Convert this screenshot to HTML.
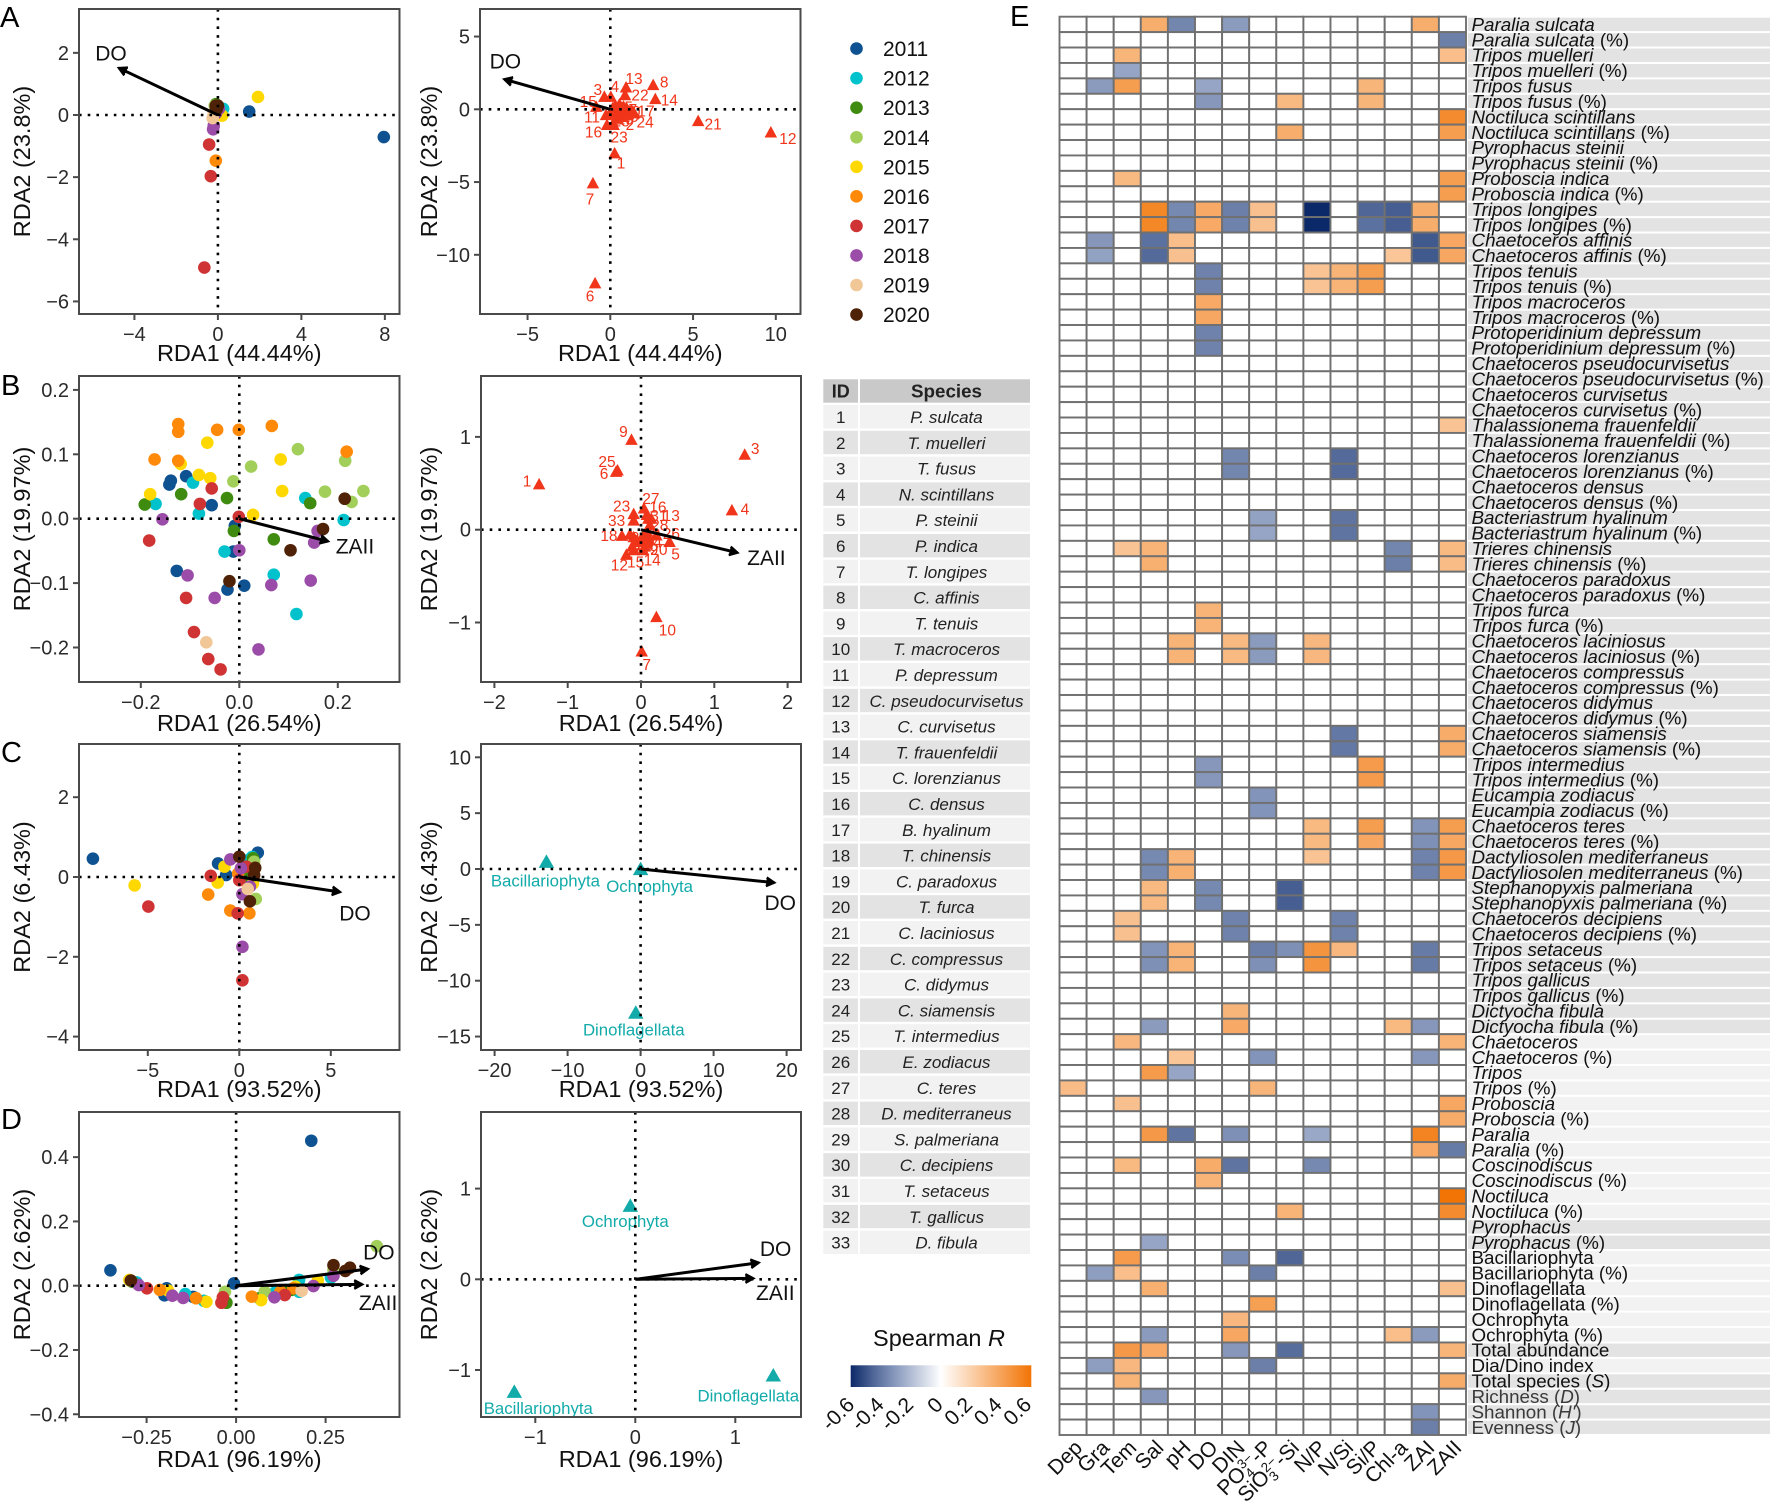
<!DOCTYPE html>
<html lang="en">
<head>
<meta charset="utf-8">
<title>RDA biplots and Spearman heatmap</title>
<style>
html,body{margin:0;padding:0;background:#fff;}
svg{display:block;font-family:"Liberation Sans",Arial,sans-serif;}
</style>
</head>
<body>
<svg id="fig" xmlns="http://www.w3.org/2000/svg" width="1771" height="1503" viewBox="0 0 1771 1503">
<defs>
<linearGradient id="spearmanGrad" x1="0" x2="1" y1="0" y2="0">
<stop offset="0" stop-color="#0B2868"/>
<stop offset="0.125" stop-color="#4F6697"/>
<stop offset="0.25" stop-color="#8A9BBE"/>
<stop offset="0.5" stop-color="#FFFFFF"/>
<stop offset="1" stop-color="#F27405"/>
</linearGradient>
</defs>
<rect x="0" y="0" width="1771" height="1503" fill="#fff"/>
</svg>
<script>
/* ---------- shared categories ---------- */
const years = [2011,2012,2013,2014,2015,2016,2017,2018,2019,2020];
const yearColors = ['#0F5291','#00C2CC','#3F8B0F','#A2CF5A','#FFD800','#FF8A0A','#CF3333','#9B4CA8','#F2C797','#4F2208'];

/* ---------- panel A ---------- */
const scoresA = [
 [[0.1,0.15],[7.95,-0.71],[1.5,0.11]],
 [[0.25,0.2],[0.2,0.1]],
 [[-0.1,0.35],[-0.05,0.2]],
 [[-0.15,0.3],[-0.1,0.1]],
 [[1.92,0.58],[0.2,-0.02],[0,0.15]],
 [[-0.1,-1.47],[-0.05,0.15]],
 [[-0.65,-4.91],[-0.34,-1.97],[-0.42,-0.95],[-0.1,0.05]],
 [[-0.23,-0.46],[-0.1,0.05],[0.05,0.2],[-0.2,-0.35]],
 [[-0.25,-0.1],[-0.2,0.05]],
 [[-0.1,0.3],[-0.05,0.2],[-0.1,0.25],[0,0.3]]
];
const loadingsA = [[1,0.26,-3.02],[2,0.46,-0.5],[3,-0.36,0.87],[4,0.03,0.87],[5,0.5,-0.2],[6,-0.92,-11.95],[7,-1.05,-5.08],[8,2.59,1.67],[9,0.3,0.25],[10,0.7,0.1],[11,-0.26,-0.39],[12,9.7,-1.58],[13,0.95,1.51],[14,2.72,0.71],[15,-0.85,0.18],[16,-0.2,-1.07],[17,1.28,-0.05],[18,0.35,-0.6],[19,0.6,-0.45],[20,0.9,-0.3],[21,5.31,-0.8],[22,0.89,0.98],[23,0.2,-1.07],[24,1.44,-0.27],[25,0.55,0.35],[26,0.15,0.1],[27,0.8,0.2],[28,0.4,-0.1],[29,0.25,-0.3],[30,1.0,0.05],[31,0.65,-0.1],[32,0.1,-0.2],[33,0.45,0.1]];
const nudgeA = {1:[6.5,10],2:[12,8],3:[-6.5,-7],4:[4,-10],6:[-5,13],7:[-3,16],8:[11,-3],11:[-14,2],12:[17,6],13:[8,-9],14:[14,1],15:[-8,-5],16:[-13.5,7],17:[14.5,1],21:[15,3],22:[15,0],23:[5.5,12],24:[11,9]};

/* ---------- panel B ---------- */
const scoresB = [
 [[-0.108,0.066],[-0.139,0.059],[-0.142,0.053],[-0.056,0.021],[-0.009,-0.011],[-0.012,-0.051],[-0.127,-0.081],[-0.024,-0.11],[0.01,-0.104]],
 [[-0.094,0.056],[-0.17,0.023],[-0.082,0.008],[0.134,0.032],[0.212,-0.002],[-0.03,-0.051],[0.07,-0.087],[0.116,-0.148]],
 [[-0.192,0.022],[-0.118,0.038],[-0.025,0.032],[0.144,0.024],[-0.011,-0.019],[0.07,-0.032]],
 [[0.119,0.108],[0.024,0.081],[0.215,0.09],[-0.012,0.058],[0.174,0.042],[0.252,0.043],[0.228,0.026]],
 [[-0.065,0.118],[-0.119,0.085],[-0.082,0.068],[-0.059,0.063],[-0.181,0.038],[0.084,0.092],[0.087,0.043],[0.028,0.006]],
 [[-0.124,0.147],[-0.124,0.135],[-0.045,0.138],[-0.001,0.138],[0.066,0.144],[0.218,0.104],[-0.172,0.092],[-0.124,0.09]],
 [[-0.056,0.047],[-0.08,0.023],[-0.001,0.003],[-0.183,-0.034],[-0.108,-0.123],[-0.092,-0.176],[-0.063,-0.218],[-0.038,-0.234]],
 [[-0.156,-0.001],[0.159,-0.019],[0.152,-0.037],[0,-0.049],[-0.105,-0.088],[0.065,-0.103],[0.145,-0.096],[-0.05,-0.123],[0.039,-0.203]],
 [[-0.067,-0.192]],
 [[0.214,0.031],[0.17,-0.016],[0.104,-0.049],[-0.02,-0.097]]
];
const loadingsB = [[1,-1.39,0.49],[2,0,-0.1],[3,1.415,0.81],[4,1.24,0.21],[5,0.39,-0.13],[6,-0.34,0.625],[7,0.01,-1.31],[8,-0.15,-0.05],[9,-0.13,0.97],[10,0.21,-0.94],[11,-0.05,-0.12],[12,-0.2,-0.27],[13,0.14,0.12],[14,0.03,-0.22],[15,-0.1,-0.22],[16,0.08,0.16],[17,0.05,-0.05],[18,-0.26,-0.065],[19,-0.12,-0.18],[20,0.08,-0.15],[21,0.02,-0.08],[22,-0.02,-0.13],[23,-0.1,0.17],[24,0.1,-0.1],[25,-0.32,0.64],[26,0.21,-0.06],[27,0.04,0.23],[28,0.12,0.05],[29,0.05,-0.18],[30,-0.1,-0.08],[31,0.1,0.12],[32,0.08,-0.02],[33,-0.1,0.1]];
const nudgeB = {1:[-12,-3],3:[10.5,-6],4:[13,-1],5:[6,12],6:[-12,2],7:[5,13],9:[-8,-8],10:[11,13],12:[-7,10],13:[20,-3],14:[9,10],15:[2,12],16:[11,-8],18:[-13,0],20:[12,6],23:[-12,-8],25:[-10.5,-9],26:[15,-2],27:[7,-10],28:[10,0],31:[10.5,-3],33:[-17,0]};

/* ---------- panel C ---------- */
const scoresC = [
 [[-8.0,0.46],[1.01,0.61],[-1.16,0.34],[-0.72,0.05],[0.81,0.47]],
 [[0.52,0.43],[0.7,0.5]],
 [[0.75,0.47],[0.5,0]],
 [[0.9,-0.55],[0.81,0.38]],
 [[-5.72,-0.21],[-1.18,-0.14],[-0.81,0.26],[0.75,-0.16]],
 [[-1.7,-0.44],[-0.49,-0.84],[0.55,-0.91],[-0.06,0.09]],
 [[-4.97,-0.74],[-1.56,0.03],[-0.09,-0.91],[0.17,-2.59],[0,-0.08],[0.38,0.26]],
 [[0.17,-1.75],[-0.49,0.44],[0.17,-0.43],[0.09,0.22],[0.58,-0.24]],
 [[0.46,-0.3]],
 [[0,0.51],[0.87,0.23],[0.81,0.05],[0.58,-0.61]]
];
const phylaC = [['Bacillariophyta',-12.9,0.65],['Ochrophyta',0,0],['Dinoflagellata',-0.66,-12.86]];

/* ---------- panel D ---------- */
const scoresD = [
 [[0.21,0.451],[-0.351,0.048],[-0.006,0.007],[-0.194,-0.008],[-0.2,-0.03],[-0.12,-0.035],[0.17,0]],
 [[-0.278,0.01],[-0.142,-0.026],[-0.09,-0.047],[0.176,0.018],[0.176,-0.019],[0.265,0.025],[0.11,-0.02]],
 [[-0.027,-0.053],[0.065,-0.039],[0.154,-0.013],[0.14,-0.02],[-0.29,0.012]],
 [[-0.031,-0.019],[0.08,-0.019],[0.272,0.049],[0.393,0.123],[-0.295,0.015]],
 [[-0.298,0.018],[-0.19,-0.015],[-0.083,-0.05],[0.07,-0.045],[0.166,-0.003],[0.228,0.016]],
 [[-0.213,-0.013],[-0.112,-0.039],[0.044,-0.034],[0.124,-0.019],[0.16,-0.008]],
 [[-0.249,-0.008],[-0.037,-0.036],[-0.041,-0.053],[0.136,-0.029]],
 [[-0.272,0.002],[-0.178,-0.031],[-0.148,-0.038],[0.107,-0.036],[0.216,-0.001],[0.272,0.031]],
 [[0.183,-0.016]],
 [[-0.294,0.016],[0.272,0.064],[0.305,0.046],[0.318,0.056]]
];
const phylaD = [['Ochrophyta',-0.05,0.81],['Bacillariophyta',-1.21,-1.24],['Dinoflagellata',1.38,-1.06]];

/* ---------- arrows (data coordinates) ---------- */
const arrowsA1 = [['DO',-4.74,1.51]];
const arrowsA2 = [['DO',-6.4,2.06]];
const arrowsB1 = [['ZAII',0.18,-0.035]];
const arrowsB2 = [['ZAII',1.315,-0.248]];
const arrowsC1 = [['DO',5.5,-0.376]];
const arrowsC2 = [['DO',18.3,-1.22]];
const arrowsD1 = [['DO',0.368,0.052],['ZAII',0.352,0.004]];
const arrowsD2 = [['DO',1.233,0.183],['ZAII',1.18,0.01]];

/* ---------- ticks ---------- */
const ticksA1x = [-4,0,4,8];
const ticksA1y = [2,0,-2,-4,-6];
const ticksA2x = [-5,0,5,10];
const ticksA2y = [5,0,-5,-10];
const ticksB1x = ['-0.2','0.0','0.2'];
const ticksB1y = ['0.2','0.1','0.0','-0.1','-0.2'];
const ticksB2x = [-2,-1,0,1,2];
const ticksB2y = [1,0,-1];
const ticksC1x = [-5,0,5];
const ticksC1y = [2,0,-2,-4];
const ticksC2x = [-20,-10,0,10,20];
const ticksC2y = [10,5,0,-5,-10,-15];
const ticksD1x = ['-0.25','0.00','0.25'];
const ticksD1y = ['0.4','0.2','0.0','-0.2','-0.4'];
const ticksD2x = [-1,0,1];
const ticksD2y = [1,0,-1];

/* ---------- species table ---------- */
const speciesShort = ['P. sulcata','T. muelleri','T. fusus','N. scintillans','P. steinii','P. indica','T. longipes','C. affinis','T. tenuis','T. macroceros','P. depressum','C. pseudocurvisetus','C. curvisetus','T. frauenfeldii','C. lorenzianus','C. densus','B. hyalinum','T. chinensis','C. paradoxus','T. furca','C. laciniosus','C. compressus','C. didymus','C. siamensis','T. intermedius','E. zodiacus','C. teres','D. mediterraneus','S. palmeriana','C. decipiens','T. setaceus','T. gallicus','D. fibula'];

/* ---------- heatmap ---------- */
const speciesFull = ['Paralia sulcata','Tripos muelleri','Tripos fusus','Noctiluca scintillans','Pyrophacus steinii','Proboscia indica','Tripos longipes','Chaetoceros affinis','Tripos tenuis','Tripos macroceros','Protoperidinium depressum','Chaetoceros pseudocurvisetus','Chaetoceros curvisetus','Thalassionema frauenfeldii','Chaetoceros lorenzianus','Chaetoceros densus','Bacteriastrum hyalinum','Trieres chinensis','Chaetoceros paradoxus','Tripos furca','Chaetoceros laciniosus','Chaetoceros compressus','Chaetoceros didymus','Chaetoceros siamensis','Tripos intermedius','Eucampia zodiacus','Chaetoceros teres','Dactyliosolen mediterraneus','Stephanopyxis palmeriana','Chaetoceros decipiens','Tripos setaceus','Tripos gallicus','Dictyocha fibula'];
const generaFull = ['Chaetoceros','Tripos','Proboscia','Paralia','Coscinodiscus','Noctiluca','Pyrophacus'];
const phylaFull = ['Bacillariophyta','Dinoflagellata','Ochrophyta'];
const indexLabels = [['Total abundance','',''],['Dia/Dino index','',''],['Total species (','S',')'],['Richness (','D',')'],['Shannon (',"H'",')'],['Evenness (','J',')']];
/* sparse rows: [column number (1-15), Spearman R] */
const heatValues = [
 [[4,.35],[5,-.36],[7,-.3],[14,.35]],
 [[15,-.38]],
 [[3,.32],[15,.28]],
 [[3,-.27]],
 [[2,-.3],[3,.42],[6,-.27],[12,.32]],
 [[6,-.31],[9,.3],[12,.32]],
 [[15,.5]],
 [[9,.35],[15,.42]],
 [],
 [],
 [[3,.3],[15,.42]],
 [[15,.42]],
 [[4,.52],[5,-.35],[6,.37],[7,-.38],[8,.27],[10,-.6],[12,-.45],[13,-.47],[14,.35]],
 [[4,.52],[5,-.36],[6,.37],[7,-.37],[8,.27],[10,-.6],[12,-.42],[13,-.47],[14,.35]],
 [[2,-.31],[4,-.42],[5,.28],[14,-.48],[15,.38]],
 [[2,-.28],[4,-.44],[5,.27],[13,.25],[14,-.48],[15,.38]],
 [[6,-.37],[10,.26],[11,.33],[12,.42]],
 [[6,-.37],[10,.26],[11,.33],[12,.42]],
 [[6,.37]],
 [[6,.38]],
 [[6,-.37]],
 [[6,-.37]],
 [],
 [],
 [],
 [],
 [[15,.26]],
 [],
 [[7,-.36],[11,-.44]],
 [[7,-.36],[11,-.44]],
 [],
 [],
 [[8,-.28],[11,-.41]],
 [[8,-.27],[11,-.41]],
 [[3,.26],[4,.33],[13,-.36],[15,.3]],
 [[4,.34],[13,-.38],[15,.29]],
 [],
 [],
 [[6,.33]],
 [[6,.33]],
 [[5,.33],[7,.3],[8,-.3],[10,.31]],
 [[5,.33],[7,.3],[8,-.3],[10,.31]],
 [],
 [],
 [],
 [],
 [[11,-.4],[15,.36]],
 [[11,-.4],[15,.36]],
 [[6,-.31],[12,.43]],
 [[6,-.31],[12,.43]],
 [[8,-.32]],
 [[8,-.32]],
 [[10,.3],[12,.42],[14,-.32],[15,.42]],
 [[10,.3],[12,.38],[14,-.33],[15,.38]],
 [[4,-.35],[5,.33],[10,.26],[14,-.37],[15,.44]],
 [[4,-.35],[5,.34],[14,-.37],[15,.44]],
 [[4,.3],[6,-.35],[9,-.47]],
 [[4,.3],[6,-.35],[9,-.47]],
 [[3,.27],[7,-.37],[11,-.37]],
 [[3,.27],[7,-.37],[11,-.37]],
 [[4,-.32],[5,.33],[8,-.38],[9,-.33],[10,.46],[11,.31],[14,-.39]],
 [[4,-.33],[5,.33],[8,-.33],[10,.46],[14,-.39]],
 [],
 [],
 [[7,.32]],
 [[4,-.3],[7,.37],[13,.3],[14,-.31]],
 [[3,.31],[15,.33]],
 [[5,.25],[8,-.32],[14,-.31]],
 [[4,.43],[5,-.27]],
 [[1,.29],[8,.32]],
 [[3,.27],[15,.38]],
 [[15,.36]],
 [[4,.44],[5,-.41],[7,-.33],[10,-.26],[14,.53]],
 [[14,.37],[15,-.39]],
 [[3,.3],[6,.36],[7,-.41],[10,-.35]],
 [[6,.33]],
 [[15,.6]],
 [[9,.33],[15,.5]],
 [],
 [[4,-.27]],
 [[3,.43],[7,-.34],[9,-.45]],
 [[2,-.29],[3,.28],[8,-.38]],
 [[4,.34],[15,.27]],
 [[8,.41]],
 [[7,.31]],
 [[4,-.3],[7,.38],[13,.28],[14,-.3]],
 [[3,.44],[4,.37],[7,-.31],[9,-.43],[15,.32]],
 [[2,-.29],[3,.31],[8,-.38]],
 [[3,.33],[15,.36]],
 [[4,-.31]],
 [[14,-.32]],
 [[14,-.38]]
];
const heatColumns = ['Dep','Gra','Tem','Sal','pH','DO','DIN','PO4','SiO3','N/P','N/Si','Si/P','Chl-a','ZAI','ZAII'];
const colorbarTicks = ['-0.6','-0.4','-0.2','0','0.2','0.4','0.6'];

/* ---------- helpers ---------- */
const NS = 'http://www.w3.org/2000/svg';
const fig = document.getElementById('fig');
function mk(parent, tag, attrs, txt){
  const el = document.createElementNS(NS, tag);
  for (const k in attrs) el.setAttribute(k, attrs[k]);
  if (txt !== undefined) el.textContent = txt;
  parent.appendChild(el);
  return el;
}
function fmt(t){ return String(t).replace('-', '\u2212'); }
const RED = '#F0351A', TEAL = '#12ABAA', AXIS = '#4a4a4a', TICKTXT = '#2b2b2b';

function panelFrame(cfg){
  const g = mk(fig, 'g', {});
  
  
  cfg.sx = v => cfg.x0 + v * cfg.xu;
  cfg.sy = v => cfg.y0 - v * cfg.yu;
  cfg.g = g;
  return g;
}
function panelAxes(cfg){
  const g = cfg.g;
  const vd = mk(g, 'line', {x1:cfg.sx(0), x2:cfg.sx(0), y1:cfg.top, y2:cfg.bottom, stroke:'#000', 'stroke-width':2.6, 'stroke-dasharray':'2.6 6.1'});
  
  
  const hd = mk(g, 'line', {x1:cfg.left, x2:cfg.right, y1:cfg.sy(0), y2:cfg.sy(0), stroke:'#000', 'stroke-width':2.6, 'stroke-dasharray':'2.6 6.1'});
  
  
}
function panelBorder(cfg){
  const g = cfg.g;
  const fr = mk(g, 'rect', {x:cfg.left, y:cfg.top, width:cfg.right-cfg.left, height:cfg.bottom-cfg.top, fill:'none', stroke:AXIS, 'stroke-width':2});
  
  
  cfg.xticks.forEach(t => {
    const x = cfg.sx(parseFloat(t));
    const tk = mk(g, 'line', {x1:x, x2:x, y1:cfg.bottom, y2:cfg.bottom+6, stroke:AXIS, 'stroke-width':2});
    
    
    const lb = mk(g, 'text', {x:x, y:cfg.bottom+27, 'text-anchor':'middle', 'font-size':20, fill:TICKTXT}, fmt(t));
    
    
  });
  cfg.yticks.forEach(t => {
    const y = cfg.sy(parseFloat(t));
    const tk = mk(g, 'line', {x1:cfg.left-6, x2:cfg.left, y1:y, y2:y, stroke:AXIS, 'stroke-width':2});
    
    
    const lb = mk(g, 'text', {x:cfg.left-10, y:y+7, 'text-anchor':'end', 'font-size':20, fill:TICKTXT}, fmt(t));
    
    
  });
  const xt = mk(g, 'text', {x:(cfg.left+cfg.right)/2, y:cfg.bottom+cfg.titleOff, 'text-anchor':'middle', 'font-size':23.5, fill:'#111'}, cfg.xtitle);
  
  
  const yb = cfg.left < 200 ? 30 : 437;
  const cy = (cfg.top+cfg.bottom)/2;
  const yt = mk(g, 'text', {x:yb, y:cy, transform:'rotate(-90 '+yb+' '+cy+')', 'text-anchor':'middle', 'font-size':23.5, fill:'#111'}, cfg.ytitle);
  
  
}
function drawScores(cfg, scores){
  scores.forEach((pts, yi) => {
    pts.forEach(p => {
      const c = mk(cfg.g, 'circle', {cx:cfg.sx(p[0]), cy:cfg.sy(p[1]), r:6.3, fill:yearColors[yi]});
      
      
    });
  });
}
function triangle(g, cx, cy, w, h, fill){
  const pts = [[cx, cy-h*0.55],[cx-w/2, cy+h*0.45],[cx+w/2, cy+h*0.45]].map(p => p.join(',')).join(' ');
  return mk(g, 'polygon', {points:pts, fill:fill});
}
function drawLoadings(cfg, rows, nudges){
  rows.forEach(r => {
    const t = triangle(cfg.g, cfg.sx(r[1]), cfg.sy(r[2]), 12.5, 11.5, RED);
    
    
  });
  rows.forEach(r => {
    const n = nudges[r[0]] || [5, 3];
    const lb = mk(cfg.g, 'text', {x:cfg.sx(r[1])+n[0], y:cfg.sy(r[2])+n[1]+5.5, 'text-anchor':'middle', 'font-size':15.5, fill:RED}, r[0]);
    
    
  });
}
function drawPhyla(cfg, rows, labelPos){
  rows.forEach((r, i) => {
    const t = triangle(cfg.g, cfg.sx(r[1]), cfg.sy(r[2]), 15.5, 13.5, TEAL);
    
    
    const lb = mk(cfg.g, 'text', {x:cfg.sx(r[1])+labelPos[i][0], y:cfg.sy(r[2])+labelPos[i][1]+6, 'text-anchor':'middle', 'font-size':16.8, fill:TEAL}, r[0]);
    
    
  });
}
function drawArrows(cfg, rows, labelPos){
  const x0 = cfg.sx(0), y0 = cfg.sy(0);
  rows.forEach((r, i) => {
    const x = cfg.sx(r[1]), y = cfg.sy(r[2]);
    const a = Math.atan2(y-y0, x-x0), L = 9, s = 0.5;
    const ln = mk(cfg.g, 'line', {x1:x0, y1:y0, x2:x, y2:y, stroke:'#000', 'stroke-width':3});
    
    
    const pts = [[x-L*Math.cos(a-s), y-L*Math.sin(a-s)],[x,y],[x-L*Math.cos(a+s), y-L*Math.sin(a+s)]].map(p => p.join(',')).join(' ');
    const hd = mk(cfg.g, 'polyline', {points:pts, fill:'#000', stroke:'#000', 'stroke-width':2.4});
    
    
    const lb = mk(cfg.g, 'text', {x:x+labelPos[i][0], y:y+labelPos[i][1]+7.5, 'text-anchor':'middle', 'font-size':21, fill:'#111'}, r[0]);
    
    
  });
}
function panelLetter(t, x, y){
  const el = mk(fig, 'text', {x:x, y:y, 'font-size':29, fill:'#000'}, t);
  
  
}

/* ---------- panels ---------- */
const L1 = 79, R1 = 399.5, L2 = 481, R2 = 801;
const pA1 = {name:'panel-a-samples', left:L1, right:R1, top:9, bottom:314, x0:217.9, xu:20.87, y0:115, yu:31.07, xticks:ticksA1x, yticks:ticksA1y, xtitle:'RDA1 (44.44%)', ytitle:'RDA2 (23.8%)', titleOff:47};
const pA2 = {name:'panel-a-species', left:L2-1, right:R2-0.5, top:9, bottom:314, x0:610.3, xu:16.55, y0:109.3, yu:14.55, xticks:ticksA2x, yticks:ticksA2y, xtitle:'RDA1 (44.44%)', ytitle:'RDA2 (23.8%)', titleOff:47};
const pB1 = {name:'panel-b-samples', left:L1, right:R1, top:376, bottom:682, x0:239.3, xu:492.5, y0:518.7, yu:644, xticks:ticksB1x, yticks:ticksB1y, xtitle:'RDA1 (26.54%)', ytitle:'RDA2 (19.97%)', titleOff:49};
const pB2 = {name:'panel-b-species', left:L2, right:R2, top:376, bottom:682, x0:641, xu:73.3, y0:529.7, yu:92.8, xticks:ticksB2x, yticks:ticksB2y, xtitle:'RDA1 (26.54%)', ytitle:'RDA2 (19.97%)', titleOff:49};
const pC1 = {name:'panel-c-samples', left:L1, right:R1, top:744, bottom:1050, x0:239.3, xu:18.3, y0:877, yu:39.9, xticks:ticksC1x, yticks:ticksC1y, xtitle:'RDA1 (93.52%)', ytitle:'RDA2 (6.43%)', titleOff:47};
const pC2 = {name:'panel-c-phyla', left:L2, right:R2, top:744, bottom:1050, x0:640.6, xu:7.3, y0:869, yu:11.17, xticks:ticksC2x, yticks:ticksC2y, xtitle:'RDA1 (93.52%)', ytitle:'RDA2 (6.43%)', titleOff:47};
const pD1 = {name:'panel-d-samples', left:L1, right:R1, top:1112, bottom:1417, x0:236.1, xu:358, y0:1285.7, yu:321.4, xticks:ticksD1x, yticks:ticksD1y, xtitle:'RDA1 (96.19%)', ytitle:'RDA2 (2.62%)', titleOff:50};
const pD2 = {name:'panel-d-phyla', left:L2, right:R2, top:1112, bottom:1417, x0:635.3, xu:100, y0:1279.3, yu:90.7, xticks:ticksD2x, yticks:ticksD2y, xtitle:'RDA1 (96.19%)', ytitle:'RDA2 (2.62%)', titleOff:50};

[pA1,pA2,pB1,pB2,pC1,pC2,pD1,pD2].forEach(panelFrame);
drawScores(pA1, scoresA);           panelAxes(pA1); drawArrows(pA1, arrowsA1, [[-8,-15]]);
drawLoadings(pA2, loadingsA, nudgeA); panelAxes(pA2); drawArrows(pA2, arrowsA2, [[1,-18.5]]);
drawScores(pB1, scoresB);           panelAxes(pB1); drawArrows(pB1, arrowsB1, [[27,5]]);
drawLoadings(pB2, loadingsB, nudgeB); panelAxes(pB2); drawArrows(pB2, arrowsB2, [[29,5]]);
drawScores(pC1, scoresC);           panelAxes(pC1); drawArrows(pC1, arrowsC1, [[15,21]]);
drawPhyla(pC2, phylaC, [[-1,19],[9,17],[-2,17]]); panelAxes(pC2); drawArrows(pC2, arrowsC2, [[6,20]]);
drawScores(pD1, scoresD);           panelAxes(pD1); drawArrows(pD1, arrowsD1, [[11,-17],[16,18]]);
drawPhyla(pD2, phylaD, [[-5,15],[24,16],[-25,20]]); panelAxes(pD2); drawArrows(pD2, arrowsD2, [[17,-14],[22,14]]);
[pA1,pA2,pB1,pB2,pC1,pC2,pD1,pD2].forEach(panelBorder);

panelLetter('A', 0, 27);
panelLetter('B', 1, 395);
panelLetter('C', 1, 762);
panelLetter('D', 1, 1129);
panelLetter('E', 1010, 26);

/* ---------- legend ---------- */
years.forEach((yr, i) => {
  const y = 48.6 + i * 29.55;
  const d = mk(fig, 'circle', {cx:856.5, cy:y, r:6.3, fill:yearColors[i]});
  
  
  const t = mk(fig, 'text', {x:883, y:y+7.5, 'font-size':21, fill:'#111'}, yr);
  
  
});

/* ---------- species table ---------- */
const tableG = mk(fig, 'g', {});


function tableRow(idTxt, spTxt, top, fill, isHead){
  const a = mk(tableG, 'rect', {x:823.3, y:top, width:34.7, height:23.4, fill:fill});
  
  
  const b = mk(tableG, 'rect', {x:860, y:top, width:170, height:23.4, fill:fill});
  
  
  const t1 = mk(tableG, 'text', {x:840.7, y:top+18, 'text-anchor':'middle', 'font-size':isHead?18:17, 'font-weight':isHead?'bold':'normal', fill:'#222'}, idTxt);
  
  
  const t2 = mk(tableG, 'text', {x:946.5, y:top+18, 'text-anchor':'middle', 'font-size':isHead?18.8:17, 'font-weight':isHead?'bold':'normal', 'font-style':isHead?'normal':'italic', fill:'#222'}, spTxt);
  
  
}
tableRow('ID', 'Species', 379.3, '#C9C9C9', true);
speciesShort.forEach((s, i) => {
  tableRow(i+1, s, 405 + i*25.8, i%2 ? '#E3E3E3' : '#F2F2F2', false);
});

/* ---------- colorbar ---------- */
const cbTitle = mk(fig, 'text', {x:939, y:1346, 'text-anchor':'middle', 'font-size':23.5, fill:'#111'}, 'Spearman ');


mk(cbTitle, 'tspan', {'font-style':'italic'}, 'R');
const cb = mk(fig, 'rect', {x:850.7, y:1365.3, width:180.6, height:21.7, fill:'url(#spearmanGrad)'});


colorbarTicks.forEach((t, i) => {
  const x = 855.7 + i * 29.5, y = 1406;
  const el = mk(fig, 'text', {x:x, y:y, transform:'rotate(-45 '+x+' '+y+')', 'text-anchor':'end', 'font-size':21, fill:'#111'}, t);
  
  
});

/* ---------- heatmap ---------- */
const HL = 1059.5, HR = 1466, HT = 16.7, HB = 1435;
const nRows = heatValues.length, nCols = heatColumns.length;
const colX = c => HL + c * (HR-HL) / nCols;
const rowY = r => HT + r * (HB-HT) / nRows;
function lerp3(a, b, t){ return a.map((e, i) => Math.round(e + (b[i]-e)*t)); }
function heatColor(v){
  const t = Math.min(1, Math.abs(v) / 0.6);
  let m;
  if (v >= 0) {
    m = lerp3([255,255,255], [242,116,5], t);
  } else if (t < 0.5) {
    m = lerp3([255,255,255], [138,155,190], t/0.5);
  } else if (t < 0.75) {
    m = lerp3([138,155,190], [79,102,151], (t-0.5)/0.25);
  } else {
    m = lerp3([79,102,151], [11,40,104], (t-0.75)/0.25);
  }
  return 'rgb(' + m.join(',') + ')';
}
const rowLabels = [];
speciesFull.forEach(s => { rowLabels.push([s,'','',true]); rowLabels.push([s,' (%)','',true]); });
generaFull.forEach(s => { rowLabels.push([s,'','',true]); rowLabels.push([s,' (%)','',true]); });
phylaFull.forEach(s => { rowLabels.push([s,'','',false]); rowLabels.push([s,' (%)','',false]); });
indexLabels.forEach(s => { rowLabels.push([s[0],s[2],s[1],false]); });

const heatG = mk(fig, 'g', {});


const stripLight = r => (r >= 66 && r <= 77) || (r >= 80 && r <= 85) || r === 87;
for (let r = 0; r < nRows; r++){
  const y = rowY(r), h = rowY(r+1) - y;
  const strip = mk(heatG, 'rect', {x:1468, y:y+1, width:302, height:h-2, fill: stripLight(r) ? '#F2F2F2' : '#E3E3E3'});
  
  
}
for (let r = 0; r < nRows; r++){
  const vals = {};
  heatValues[r].forEach(p => { vals[p[0]] = p[1]; });
  for (let c = 0; c < nCols; c++){
    const v = vals[c+1];
    const cell = mk(heatG, 'rect', {x:colX(c), y:rowY(r), width:colX(c+1)-colX(c), height:rowY(r+1)-rowY(r), fill: v === undefined ? '#fff' : heatColor(v), stroke:'#707070', 'stroke-width':1.9});
    
    
  }
}
rowLabels.forEach((lab, r) => {
  const y = (rowY(r)+rowY(r+1))/2 + 6.5;
  const t = mk(heatG, 'text', {x:1471.5, y:y, 'font-size':18.8, fill: r >= 89 ? '#3a3a3a' : '#111'});
  
  
  mk(t, 'tspan', {'font-style': lab[3] ? 'italic' : 'normal'}, lab[0]);
  if (lab[2]) {
    mk(t, 'tspan', {'font-style':'italic'}, lab[2]);
  }
  if (lab[1]) {
    mk(t, 'tspan', {'font-style':'normal'}, lab[1]);
  }
});
heatColumns.forEach((name, c) => {
  const x = (colX(c)+colX(c+1))/2 + 10.5, y = 1449;
  const t = mk(heatG, 'text', {x:x, y:y, transform:'rotate(-45 '+x+' '+y+')', 'text-anchor':'end', 'font-size':21, fill:'#111'});
  
  
  if (name === 'PO4') {
    mk(t, 'tspan', {}, 'PO');
    mk(t, 'tspan', {dy:5, 'font-size':13.5}, '4');
    mk(t, 'tspan', {dx:-7, dy:-12, 'font-size':13.5}, '3\u2212');
    mk(t, 'tspan', {dy:7}, '-P');
  } else if (name === 'SiO3') {
    mk(t, 'tspan', {}, 'SiO');
    mk(t, 'tspan', {dy:5, 'font-size':13.5}, '3');
    mk(t, 'tspan', {dx:-7, dy:-12, 'font-size':13.5}, '2\u2212');
    mk(t, 'tspan', {dy:7}, '-Si');
  } else {
    t.textContent = name;
  }
});
</script>
</body>
</html>
